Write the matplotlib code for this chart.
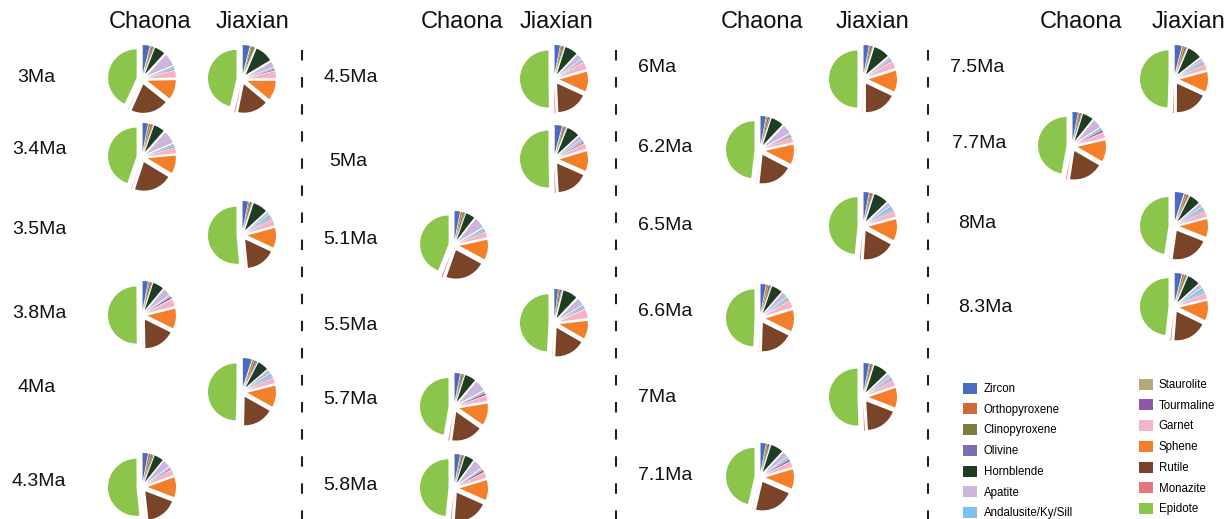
import pandas as pd
import matplotlib.pyplot as plt
from matplotlib.patches import Patch

plt.rcParams["font.family"] = ["Liberation Sans", "DejaVu Sans"]

# Minerals, clockwise from 12 o'clock
minerals = ["Zircon", "Orthopyroxene", "Clinopyroxene", "Olivine", "Hornblende",
            "Apatite", "Andalusite/Ky/Sill", "Staurolite", "Tourmaline", "Garnet",
            "Sphene", "Rutile", "Monazite", "Epidote"]
colors = ["#4a6cc0", "#cc6a3a", "#7e7c3c", "#7d6db3", "#1f3d22",
          "#cdb5db", "#7cc4ee", "#b3aa78", "#8e57a8", "#f5b3c8",
          "#f47f2a", "#7a4428", "#e6767d", "#8cc54c"]

# Samples (age, site)
ages = ["3Ma", "3Ma", "3.4Ma", "3.5Ma", "3.8Ma", "4Ma", "4.3Ma",
        "4.5Ma", "5Ma", "5.1Ma", "5.5Ma", "5.7Ma", "5.8Ma",
        "6Ma", "6.2Ma", "6.5Ma", "6.6Ma", "7Ma", "7.1Ma",
        "7.5Ma", "7.7Ma", "8Ma", "8.3Ma"]
sites = ["Chaona", "Jiaxian", "Chaona", "Jiaxian", "Chaona", "Jiaxian", "Chaona",
         "Jiaxian", "Jiaxian", "Chaona", "Jiaxian", "Chaona", "Chaona",
         "Jiaxian", "Chaona", "Jiaxian", "Chaona", "Jiaxian", "Chaona",
         "Jiaxian", "Chaona", "Jiaxian", "Jiaxian"]

# Heavy mineral percentages for each sample
zircon        = [4, 4, 3, 3, 3, 5, 3, 3, 4, 3, 2, 3, 3, 3, 3, 3, 3, 3, 3, 4, 3, 5, 4]
orthopyroxene = [0.5, 0.5, 1, 0.5, 0.5, 1, 1, 0.5, 0.5, 1, 0.5, 0.5, 0.5, 0.5, 0.5, 0.5, 1, 0.5, 0.5, 1, 0.5, 1, 1]
clinopyroxene = [1, 1.5, 1, 1, 1, 1, 1, 1, 1, 1, 1, 1, 1, 1, 1, 1, 1, 1, 1, 1, 1, 1, 1]
olivine       = [0.3, 0.3, 0.3, 0.3, 0.3, 0.5, 0.5, 0.3, 0.3, 0.3, 0.3, 0.3, 0.3, 0.3, 0.5, 0.3, 0.3, 0.3, 0.3, 0.3, 0.3, 0.3, 0.3]
hornblende    = [6, 10, 6, 8, 6, 6, 5, 7, 7, 5, 8, 6, 5, 9, 7, 8, 6, 8, 7, 8, 6, 6, 7]
apatite       = [7, 3, 7, 1.5, 4, 2, 4, 3, 2, 6, 4, 6, 5, 1, 5, 2, 3, 2, 3, 1.5, 5, 2, 2]
andalusite    = [1, 0.5, 1, 1.5, 0.5, 1.5, 0.5, 0.5, 1, 1, 1, 0.5, 0.5, 0.5, 0.5, 2, 1, 1, 1, 1, 1, 1.5, 2]
staurolite    = [0.5, 0.5, 0.5, 0.5, 0.3, 0.5, 0.3, 0.5, 0.5, 0.5, 0.5, 0.5, 0.5, 0.5, 0.5, 0.5, 0.5, 0.5, 0.5, 0.5, 0.5, 0.5, 0.5]
tourmaline    = [0.3, 0.5, 0.3, 0.3, 1, 0.3, 0.5, 0.3, 0.5, 0.3, 0.3, 1, 1, 0.3, 0.5, 0.3, 0.3, 0.3, 1, 0.3, 1, 0.3, 0.3]
garnet        = [4, 4, 3, 3.5, 4, 3, 3, 4, 3, 3, 5, 3, 3, 4, 3, 3, 4, 3, 3, 3, 3, 3, 3]
sphene        = [11, 11, 10, 11, 11, 12, 11, 11, 11, 11, 10, 12, 11, 12, 11, 12, 12, 11, 11, 11, 12, 10, 11]
rutile        = [21, 17, 21, 16, 17, 17, 17, 17, 17, 22, 17, 17, 19, 18, 19, 18, 18, 18, 22, 18, 19, 21, 19]
monazite      = [0.2, 0.5, 0.2, 0.1, 0.1, 0.1, 0.1, 0.5, 0.5, 0.5, 0.1, 0.5, 0.5, 0.1, 0.1, 0.5, 0.1, 0.5, 0.1, 0.5, 0.5, 0.1, 0.5]
epidote       = [43, 46, 44, 50, 49, 49, 50, 49, 49, 43, 48, 46, 47, 50, 48, 48, 49, 50, 46, 49, 47, 47, 48]

data = pd.DataFrame({
    "Zircon": zircon, "Orthopyroxene": orthopyroxene, "Clinopyroxene": clinopyroxene,
    "Olivine": olivine, "Hornblende": hornblende, "Apatite": apatite,
    "Andalusite/Ky/Sill": andalusite, "Staurolite": staurolite, "Tourmaline": tourmaline,
    "Garnet": garnet, "Sphene": sphene, "Rutile": rutile, "Monazite": monazite,
    "Epidote": epidote,
})
data["age"] = ages
data["site"] = sites

# Layout in pixels: age -> (group, label x, label y, pie y)
layout = {
    "3Ma": (0, 17, 78, 79), "3.4Ma": (0, 12, 150, 157), "3.5Ma": (0, 12, 229, 235),
    "3.8Ma": (0, 12, 313, 315), "4Ma": (0, 17, 387, 392), "4.3Ma": (0, 12, 482, 487),
    "4.5Ma": (1, 323, 78, 79), "5Ma": (1, 329, 161, 159), "5.1Ma": (1, 323, 239, 245),
    "5.5Ma": (1, 323, 326, 323), "5.7Ma": (1, 323, 399, 407), "5.8Ma": (1, 323, 485, 488),
    "6Ma": (2, 638, 68, 79), "6.2Ma": (2, 638, 147, 150), "6.5Ma": (2, 638, 226, 226),
    "6.6Ma": (2, 638, 312, 318), "7Ma": (2, 638, 398, 397), "7.1Ma": (2, 638, 476, 477),
    "7.5Ma": (3, 950, 67, 79), "7.7Ma": (3, 952, 143, 146), "8Ma": (3, 958, 223, 226),
    "8.3Ma": (3, 958, 307, 307),
}
pie_x = [{"Chaona": 142, "Jiaxian": 242}, {"Chaona": 454, "Jiaxian": 554},
         {"Chaona": 760, "Jiaxian": 863}, {"Chaona": 1072, "Jiaxian": 1174}]
header_x = [{"Chaona": 150, "Jiaxian": 252}, {"Chaona": 462, "Jiaxian": 557},
            {"Chaona": 762, "Jiaxian": 872}, {"Chaona": 1081, "Jiaxian": 1188}]
divider_x = [302, 616, 928]

fig = plt.figure(figsize=(12.25, 5.19), dpi=100)
ax = fig.add_axes([0, 0, 1, 1])

# Pies (y axis is flipped, so start at -90 and go counterclock in data = clockwise on screen)
radius = 28.5
for _, row in data.iterrows():
    g, lx, ly, py = layout[row["age"]]
    vals = row[minerals].astype(float).values
    ax.pie(vals, colors=colors, radius=radius, center=(pie_x[g][row["site"]], py),
           explode=[5.5] * len(vals), startangle=-90, counterclock=True,
           wedgeprops={"linewidth": 0}, frame=True)

# Age labels
for age, (g, lx, ly, py) in layout.items():
    ax.text(lx, ly, age, fontsize=14, ha="left", va="center", color="#111111")

# Column headers
for hx in header_x:
    for site, x in hx.items():
        ax.text(x, 22, site, fontsize=17, ha="center", va="center", color="#111111")

# Dashed separators
for x in divider_x:
    ax.plot([x, x], [50, 519], color="#222222", lw=1.5, linestyle=(0, (5, 8)))

# Legend in two columns
handles = [Patch(facecolor=c, edgecolor="none") for c in colors]
leg_kw = dict(frameon=False, fontsize=8.3, handlelength=1.2, handleheight=1.1,
              labelspacing=0.72, borderpad=0, borderaxespad=0, loc="upper left",
              bbox_transform=ax.transData)
leg1 = ax.legend(handles[:7], minerals[:7], bbox_to_anchor=(963, 382.5),
                 handletextpad=0.6, **leg_kw)
ax.add_artist(leg1)
ax.legend(handles[7:], minerals[7:], bbox_to_anchor=(1139, 378.5),
          handletextpad=0.5, **leg_kw)

ax.set_xlim(0, 1225)
ax.set_ylim(519, 0)
ax.axis("off")

plt.savefig("out.png", dpi=100)
